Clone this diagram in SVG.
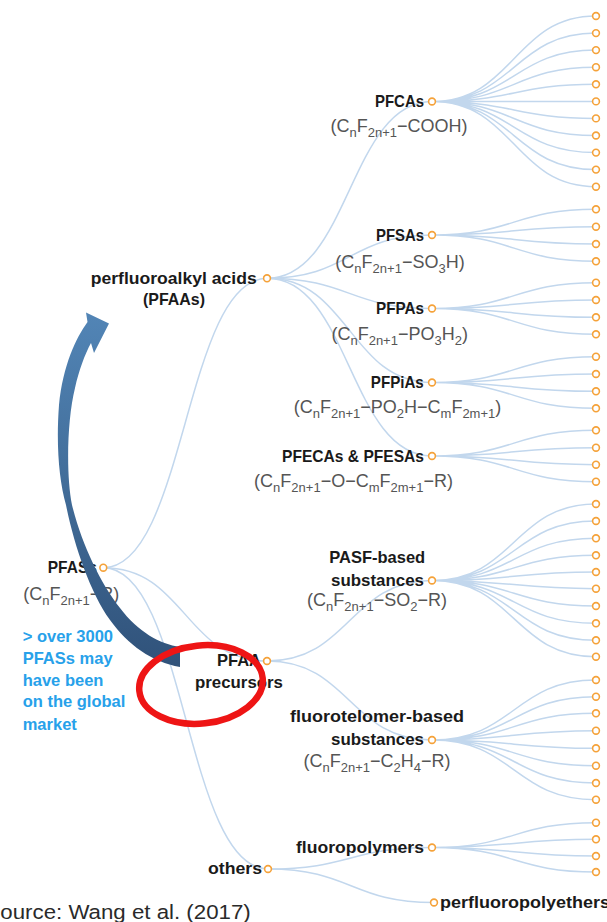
<svg xmlns="http://www.w3.org/2000/svg" width="607" height="922" viewBox="0 0 607 922">
<style>
.e{fill:none;stroke:#c2d7ed;stroke-width:1.5}
.n{fill:#fff;stroke:#f5a23a;stroke-width:1.6}
.l{font-family:"Liberation Sans",Arial,sans-serif;font-weight:bold;font-size:17px;fill:#1a1a1a}
.f{font-family:"Liberation Sans",Arial,sans-serif;font-size:18px;fill:#555}
.s{font-size:13px}
.b{font-family:"Liberation Sans",Arial,sans-serif;font-weight:bold;font-size:16.5px;fill:#27a1ea}
.src{font-family:"Liberation Sans",Arial,sans-serif;font-size:20.5px;fill:#2a2a2a}
</style>
<defs>
<linearGradient id="ag" gradientUnits="userSpaceOnUse" x1="0" y1="312" x2="0" y2="667">
<stop offset="0" stop-color="#5285b6"/>
<stop offset="0.5" stop-color="#416c98"/>
<stop offset="1" stop-color="#30527a"/>
</linearGradient>
</defs>
<rect width="607" height="922" fill="#fff"/>
<g id="connectors">
<path class="e" d="M103.3,567.7 C185.2,567.7 185.2,278.3 267,278.3"/>
<path class="e" d="M103.3,567.7 C185.2,567.7 185.2,661 267,661"/>
<path class="e" d="M103.3,567.7 C185.6,567.7 185.6,869 268,869"/>
<path class="e" d="M267,278.3 C349.5,278.3 349.5,101.5 432,101.5"/>
<path class="e" d="M267,278.3 C349.5,278.3 349.5,235 432,235"/>
<path class="e" d="M267,278.3 C349.5,278.3 349.5,308.5 432,308.5"/>
<path class="e" d="M267,278.3 C349.5,278.3 349.5,382.5 432,382.5"/>
<path class="e" d="M267,278.3 C349.5,278.3 349.5,456 432,456"/>
<path class="e" d="M267,661 C349.5,661 349.5,580.5 432,580.5"/>
<path class="e" d="M267,661 C349.5,661 349.5,740 432,740"/>
<path class="e" d="M268,869 C350,869 350,847.5 432,847.5"/>
<path class="e" d="M268,869 C351,869 351,902.5 434,902.5"/>
<path class="e" d="M432,101.5 C514,101.5 514,16 596,16 M432,101.5 C514,101.5 514,33.1 596,33.1 M432,101.5 C514,101.5 514,50.1 596,50.1 M432,101.5 C514,101.5 514,67.2 596,67.2 M432,101.5 C514,101.5 514,84.3 596,84.3 M432,101.5 C514,101.5 514,101.4 596,101.4 M432,101.5 C514,101.5 514,118.4 596,118.4 M432,101.5 C514,101.5 514,135.5 596,135.5 M432,101.5 C514,101.5 514,152.6 596,152.6 M432,101.5 C514,101.5 514,169.6 596,169.6 M432,101.5 C514,101.5 514,186.7 596,186.7"/>
<path class="e" d="M432,235 C514,235 514,209.3 596,209.3 M432,235 C514,235 514,226.7 596,226.7 M432,235 C514,235 514,244 596,244 M432,235 C514,235 514,261.3 596,261.3"/>
<path class="e" d="M432,308.5 C514,308.5 514,282.7 596,282.7 M432,308.5 C514,308.5 514,300 596,300 M432,308.5 C514,308.5 514,317.3 596,317.3 M432,308.5 C514,308.5 514,334.3 596,334.3"/>
<path class="e" d="M432,382.5 C514,382.5 514,356.7 596,356.7 M432,382.5 C514,382.5 514,374 596,374 M432,382.5 C514,382.5 514,391.3 596,391.3 M432,382.5 C514,382.5 514,408.3 596,408.3"/>
<path class="e" d="M432,456 C514,456 514,430.3 596,430.3 M432,456 C514,456 514,447.7 596,447.7 M432,456 C514,456 514,464.7 596,464.7 M432,456 C514,456 514,481.7 596,481.7"/>
<path class="e" d="M432,580.5 C514,580.5 514,504 596,504 M432,580.5 C514,580.5 514,521 596,521 M432,580.5 C514,580.5 514,538.3 596,538.3 M432,580.5 C514,580.5 514,555.3 596,555.3 M432,580.5 C514,580.5 514,572 596,572 M432,580.5 C514,580.5 514,588.7 596,588.7 M432,580.5 C514,580.5 514,606 596,606 M432,580.5 C514,580.5 514,623.3 596,623.3 M432,580.5 C514,580.5 514,640.3 596,640.3 M432,580.5 C514,580.5 514,656.7 596,656.7"/>
<path class="e" d="M432,740 C514,740 514,680 596,680 M432,740 C514,740 514,696.7 596,696.7 M432,740 C514,740 514,713.3 596,713.3 M432,740 C514,740 514,730.7 596,730.7 M432,740 C514,740 514,748.3 596,748.3 M432,740 C514,740 514,765.7 596,765.7 M432,740 C514,740 514,783 596,783 M432,740 C514,740 514,799.7 596,799.7"/>
<path class="e" d="M432,847.5 C514,847.5 514,822.7 596,822.7 M432,847.5 C514,847.5 514,839.3 596,839.3 M432,847.5 C514,847.5 514,856 596,856 M432,847.5 C514,847.5 514,872 596,872"/>
</g>
<g id="leaves">
<circle class="n" cx="596" cy="16" r="3.4"/><circle class="n" cx="596" cy="33.1" r="3.4"/><circle class="n" cx="596" cy="50.1" r="3.4"/><circle class="n" cx="596" cy="67.2" r="3.4"/><circle class="n" cx="596" cy="84.3" r="3.4"/><circle class="n" cx="596" cy="101.4" r="3.4"/><circle class="n" cx="596" cy="118.4" r="3.4"/><circle class="n" cx="596" cy="135.5" r="3.4"/><circle class="n" cx="596" cy="152.6" r="3.4"/><circle class="n" cx="596" cy="169.6" r="3.4"/><circle class="n" cx="596" cy="186.7" r="3.4"/>
<circle class="n" cx="596" cy="209.3" r="3.4"/><circle class="n" cx="596" cy="226.7" r="3.4"/><circle class="n" cx="596" cy="244" r="3.4"/><circle class="n" cx="596" cy="261.3" r="3.4"/>
<circle class="n" cx="596" cy="282.7" r="3.4"/><circle class="n" cx="596" cy="300" r="3.4"/><circle class="n" cx="596" cy="317.3" r="3.4"/><circle class="n" cx="596" cy="334.3" r="3.4"/>
<circle class="n" cx="596" cy="356.7" r="3.4"/><circle class="n" cx="596" cy="374" r="3.4"/><circle class="n" cx="596" cy="391.3" r="3.4"/><circle class="n" cx="596" cy="408.3" r="3.4"/>
<circle class="n" cx="596" cy="430.3" r="3.4"/><circle class="n" cx="596" cy="447.7" r="3.4"/><circle class="n" cx="596" cy="464.7" r="3.4"/><circle class="n" cx="596" cy="481.7" r="3.4"/>
<circle class="n" cx="596" cy="504" r="3.4"/><circle class="n" cx="596" cy="521" r="3.4"/><circle class="n" cx="596" cy="538.3" r="3.4"/><circle class="n" cx="596" cy="555.3" r="3.4"/><circle class="n" cx="596" cy="572" r="3.4"/><circle class="n" cx="596" cy="588.7" r="3.4"/><circle class="n" cx="596" cy="606" r="3.4"/><circle class="n" cx="596" cy="623.3" r="3.4"/><circle class="n" cx="596" cy="640.3" r="3.4"/><circle class="n" cx="596" cy="656.7" r="3.4"/>
<circle class="n" cx="596" cy="680" r="3.4"/><circle class="n" cx="596" cy="696.7" r="3.4"/><circle class="n" cx="596" cy="713.3" r="3.4"/><circle class="n" cx="596" cy="730.7" r="3.4"/><circle class="n" cx="596" cy="748.3" r="3.4"/><circle class="n" cx="596" cy="765.7" r="3.4"/><circle class="n" cx="596" cy="783" r="3.4"/><circle class="n" cx="596" cy="799.7" r="3.4"/>
<circle class="n" cx="596" cy="822.7" r="3.4"/><circle class="n" cx="596" cy="839.3" r="3.4"/><circle class="n" cx="596" cy="856" r="3.4"/><circle class="n" cx="596" cy="872" r="3.4"/>
</g>
<g id="node-pfass">
<circle class="n" cx="103.3" cy="567.7" r="3.4"/>
<text class="l" x="72.3" y="572.5" text-anchor="middle" textLength="49" lengthAdjust="spacingAndGlyphs">PFASs</text>
<text class="f" x="71.3" y="600" text-anchor="middle">(C<tspan class="s" dy="5">n</tspan><tspan dy="-5">F</tspan><tspan class="s" dy="5">2n+1</tspan><tspan dy="-5">−R)</tspan></text>
</g>
<g id="note">
<text class="b" x="22.7" y="641.7">&gt; over 3000</text>
<text class="b" x="22.7" y="664">PFASs may</text>
<text class="b" x="22.7" y="685.7">have been</text>
<text class="b" x="22.7" y="707.3">on the global</text>
<text class="b" x="22.7" y="730">market</text>
</g>
<g id="node-pfaas">
<circle class="n" cx="267" cy="278.3" r="3.4"/>
<text class="l" x="173.7" y="284" text-anchor="middle" textLength="166" lengthAdjust="spacingAndGlyphs">perfluoroalkyl acids</text>
<text class="l" x="174" y="305" text-anchor="middle" textLength="62" lengthAdjust="spacingAndGlyphs">(PFAAs)</text>
</g>
<g id="node-pfcas">
<circle class="n" cx="432" cy="101.5" r="3.4"/>
<text class="l" x="399.5" y="107" text-anchor="middle" textLength="49" lengthAdjust="spacingAndGlyphs">PFCAs</text>
<text class="f" x="399" y="132" text-anchor="middle">(C<tspan class="s" dy="5">n</tspan><tspan dy="-5">F</tspan><tspan class="s" dy="5">2n+1</tspan><tspan dy="-5">−COOH)</tspan></text>
</g>
<g id="node-pfsas">
<circle class="n" cx="432" cy="235" r="3.4"/>
<text class="l" x="400" y="240.7" text-anchor="middle" textLength="48" lengthAdjust="spacingAndGlyphs">PFSAs</text>
<text class="f" x="400" y="268" text-anchor="middle">(C<tspan class="s" dy="5">n</tspan><tspan dy="-5">F</tspan><tspan class="s" dy="5">2n+1</tspan><tspan dy="-5">−SO</tspan><tspan class="s" dy="5">3</tspan><tspan dy="-5">H)</tspan></text>
</g>
<g id="node-pfpas">
<circle class="n" cx="432" cy="308.5" r="3.4"/>
<text class="l" x="400" y="314.3" text-anchor="middle" textLength="48" lengthAdjust="spacingAndGlyphs">PFPAs</text>
<text class="f" x="399.7" y="340" text-anchor="middle">(C<tspan class="s" dy="5">n</tspan><tspan dy="-5">F</tspan><tspan class="s" dy="5">2n+1</tspan><tspan dy="-5">−PO</tspan><tspan class="s" dy="5">3</tspan><tspan dy="-5">H</tspan><tspan class="s" dy="5">2</tspan><tspan dy="-5">)</tspan></text>
</g>
<g id="node-pfpias">
<circle class="n" cx="432" cy="382.5" r="3.4"/>
<text class="l" x="397.3" y="387.7" text-anchor="middle" textLength="53" lengthAdjust="spacingAndGlyphs">PFPiAs</text>
<text class="f" x="397.5" y="413" text-anchor="middle">(C<tspan class="s" dy="5">n</tspan><tspan dy="-5">F</tspan><tspan class="s" dy="5">2n+1</tspan><tspan dy="-5">−PO</tspan><tspan class="s" dy="5">2</tspan><tspan dy="-5">H−C</tspan><tspan class="s" dy="5">m</tspan><tspan dy="-5">F</tspan><tspan class="s" dy="5">2m+1</tspan><tspan dy="-5">)</tspan></text>
</g>
<g id="node-pfecas">
<circle class="n" cx="432" cy="456" r="3.4"/>
<text class="l" x="353" y="461.7" text-anchor="middle" textLength="142" lengthAdjust="spacingAndGlyphs">PFECAs &amp; PFESAs</text>
<text class="f" x="353.5" y="486.7" text-anchor="middle">(C<tspan class="s" dy="5">n</tspan><tspan dy="-5">F</tspan><tspan class="s" dy="5">2n+1</tspan><tspan dy="-5">−O−C</tspan><tspan class="s" dy="5">m</tspan><tspan dy="-5">F</tspan><tspan class="s" dy="5">2m+1</tspan><tspan dy="-5">−R)</tspan></text>
</g>
<g id="node-precursors">
<circle class="n" cx="267" cy="661" r="3.4"/>
<text class="l" x="239" y="665.7" text-anchor="middle" textLength="44" lengthAdjust="spacingAndGlyphs">PFAA</text>
<text class="l" x="239" y="688" text-anchor="middle" textLength="88" lengthAdjust="spacingAndGlyphs">precursors</text>
</g>
<g id="node-pasf">
<circle class="n" cx="432" cy="580.5" r="3.4"/>
<text class="l" x="377.2" y="563.3" text-anchor="middle" textLength="96" lengthAdjust="spacingAndGlyphs">PASF-based</text>
<text class="l" x="377.5" y="586" text-anchor="middle" textLength="93" lengthAdjust="spacingAndGlyphs">substances</text>
<text class="f" x="377" y="606" text-anchor="middle">(C<tspan class="s" dy="5">n</tspan><tspan dy="-5">F</tspan><tspan class="s" dy="5">2n+1</tspan><tspan dy="-5">−SO</tspan><tspan class="s" dy="5">2</tspan><tspan dy="-5">−R)</tspan></text>
</g>
<g id="node-fluorotelomer">
<circle class="n" cx="432" cy="740" r="3.4"/>
<text class="l" x="377" y="722.3" text-anchor="middle" textLength="174" lengthAdjust="spacingAndGlyphs">fluorotelomer-based</text>
<text class="l" x="377.5" y="745" text-anchor="middle" textLength="93" lengthAdjust="spacingAndGlyphs">substances</text>
<text class="f" x="377" y="766.7" text-anchor="middle">(C<tspan class="s" dy="5">n</tspan><tspan dy="-5">F</tspan><tspan class="s" dy="5">2n+1</tspan><tspan dy="-5">−C</tspan><tspan class="s" dy="5">2</tspan><tspan dy="-5">H</tspan><tspan class="s" dy="5">4</tspan><tspan dy="-5">−R)</tspan></text>
</g>
<g id="node-others">
<circle class="n" cx="268" cy="869" r="3.4"/>
<text class="l" x="262" y="874.3" text-anchor="end" textLength="54" lengthAdjust="spacingAndGlyphs">others</text>
</g>
<g id="node-fluoropolymers">
<circle class="n" cx="432" cy="847.5" r="3.4"/>
<text class="l" x="424" y="853" text-anchor="end" textLength="128" lengthAdjust="spacingAndGlyphs">fluoropolymers</text>
</g>
<g id="node-pfpe">
<circle class="n" cx="434" cy="902.5" r="3.4"/>
<text class="l" x="440" y="908" textLength="170" lengthAdjust="spacingAndGlyphs">perfluoropolyethers</text>
</g>
<text class="src" x="-14.5" y="918.7" textLength="265.2" lengthAdjust="spacingAndGlyphs">Source: Wang et al. (2017)</text>
<path id="arrow" fill="url(#ag)" d="M180,647 C160,644 138,632 120,608 C100,582 82,545 72,505 C66,475 67,420 75,388 C79,370 85,354 91,343 L94,353 L109,323.5 L86,312.5 L87.5,322 C76,338 63,365 59,405 C56,445 59,480 66,505 C74,545 90,592 110,620 C128,645 152,662 180,667 Z"/>
<ellipse id="highlight" cx="201" cy="684.5" rx="62" ry="39" transform="rotate(-6 201 684.5)" fill="none" stroke="#ee1515" stroke-width="6.5"/>
</svg>
